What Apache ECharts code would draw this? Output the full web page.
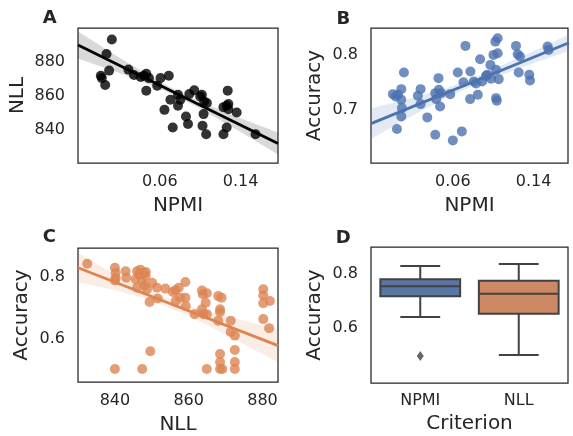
<!DOCTYPE html>
<html><head><meta charset="utf-8">
<script src="https://cdn.jsdelivr.net/npm/echarts@6/dist/echarts.min.js"></script>
<style>html,body{margin:0;padding:0;background:#fff}#c{width:573px;height:436px}</style>
</head><body><div id="c"></div>
<script>
// ---- Panel A: NPMI vs NLL ----
const npmiA = [0.0125, 0.0072, 0.0098, 0.0016, 0.0026, 0.0059, 0.0289, 0.0344, 0.0410, 0.0443,
  0.0466, 0.0492, 0.0466, 0.0574, 0.0607, 0.0689, 0.0646, 0.0705, 0.0780, 0.0780,
  0.0803, 0.0728, 0.0859, 0.0879, 0.0892, 0.0941, 0.1000, 0.1016, 0.1039, 0.1066,
  0.1033, 0.1023, 0.1059, 0.1230, 0.1262, 0.1272, 0.1262, 0.1279, 0.1230, 0.1279,
  0.1361, 0.1548];
const nllA = [893.2, 884.7, 874.9, 871.9, 870.5, 866.4, 875.5, 872.3, 871.1, 871.9,
  873.1, 870.5, 863.1, 866.0, 870.5, 871.9, 851.8, 857.7, 854.2, 860.7,
  857.7, 841.4, 847.9, 843.5, 861.1, 863.3, 859.7, 860.7, 856.7, 855.8,
  849.3, 842.4, 837.4, 837.4, 841.4, 863.1, 854.2, 855.2, 853.4, 852.2,
  850.2, 837.4];
const fitA_x = [-0.021, 0.177];
const fitA_y = [890.0, 832.0];
const bandA_x = [-0.021, 0.02, 0.06, 0.08, 0.10, 0.14, 0.177];
const bandA_lo = [882.0, 873.5, 864.3, 858.6, 852.6, 838.8, 825.5];
const bandA_hi = [898.0, 882.5, 868.3, 862.2, 856.6, 846.8, 838.5];

// ---- Panel B: NPMI vs Accuracy ----
const npmiB = [0.0007, 0.0034, 0.0057, 0.0090, 0.0090, 0.0096, 0.0090, 0.0047, 0.0116, 0.0254,
  0.0281, 0.0281, 0.0347, 0.0426, 0.0426, 0.0435, 0.0458, 0.0462, 0.0474, 0.0484,
  0.0574, 0.0600, 0.0649, 0.0689, 0.0705, 0.0725, 0.0771, 0.0774, 0.0807, 0.0847,
  0.0870, 0.0890, 0.0929, 0.0972, 0.0979, 0.1002, 0.1021, 0.1044, 0.1044, 0.1028,
  0.1028, 0.1035, 0.1054, 0.1225, 0.1242, 0.1265, 0.1252, 0.1357, 0.1364, 0.1538,
  0.1548, 0.0942, 0.0830];
const accB = [0.7285, 0.7242, 0.7273, 0.7376, 0.7182, 0.7030, 0.6879, 0.6648, 0.7679, 0.7255,
  0.7376, 0.7103, 0.6861, 0.6545, 0.7303, 0.7194, 0.7576, 0.7364, 0.7061, 0.7303,
  0.7285, 0.6442, 0.7679, 0.6606, 0.7503, 0.8164, 0.7194, 0.7697, 0.7515, 0.7273,
  0.7921, 0.7515, 0.7618, 0.7818, 0.7564, 0.8000, 0.8242, 0.8303, 0.8030, 0.7727,
  0.7212, 0.7164, 0.7558, 0.8164, 0.8012, 0.7970, 0.7679, 0.7636, 0.7533, 0.8152,
  0.8091, 0.7640, 0.7480];
const fitB_x = [-0.021, 0.175];
const fitB_y = [0.6747, 0.8222];
const bandB_x = [-0.021, 0.02, 0.06, 0.08, 0.10, 0.14, 0.175];
const bandB_lo = [0.6467, 0.6896, 0.7277, 0.7438, 0.7578, 0.7849, 0.8072];
const bandB_hi = [0.7027, 0.7216, 0.7437, 0.7578, 0.7738, 0.8069, 0.8372];

// ---- Panel C: NLL vs Accuracy ----
const nllC = [832.5, 840.0, 840.2, 840.0, 840.2, 842.9, 843.1, 846.0, 846.5, 845.6,
  846.0, 846.9, 847.8, 848.3, 848.4, 847.4, 848.0, 848.7, 850.1, 849.4,
  851.4, 851.6, 853.7, 855.7, 856.4, 857.3, 857.7, 859.1, 859.1, 859.2,
  856.5, 861.6, 863.6, 863.8, 864.9, 864.6, 863.6, 864.0, 864.9, 868.0,
  868.9, 868.5, 868.5, 868.0, 871.4, 871.4, 872.5, 872.5, 872.5, 872.5,
  868.5, 868.5, 868.5, 869.1, 864.9, 849.6, 847.4, 840.0, 880.2, 880.2,
  880.2, 882.0, 880.2, 881.8];
const accC = [0.842, 0.829, 0.813, 0.788, 0.797, 0.818, 0.797, 0.818, 0.807, 0.792,
  0.765, 0.823, 0.813, 0.802, 0.815, 0.786, 0.772, 0.760, 0.781, 0.719,
  0.765, 0.730, 0.762, 0.751, 0.757, 0.765, 0.733, 0.783, 0.733, 0.706,
  0.722, 0.680, 0.756, 0.744, 0.747, 0.717, 0.696, 0.680, 0.680, 0.738,
  0.733, 0.696, 0.687, 0.659, 0.659, 0.623, 0.611, 0.565, 0.526, 0.504,
  0.552, 0.526, 0.504, 0.504, 0.504, 0.561, 0.504, 0.504, 0.760, 0.740,
  0.715, 0.722, 0.664, 0.635];
const fitC_x = [830.0, 884.2];
const fitC_y = [0.8292, 0.5787];
const bandC_x = [830.0, 840.0, 850.0, 860.0, 870.0, 884.2];
const bandC_lo = [0.7822, 0.7579, 0.7227, 0.6745, 0.6143, 0.5257];
const bandC_hi = [0.8762, 0.8079, 0.7507, 0.7065, 0.6743, 0.6317];

// ---- Panel D: box plot by criterion ----
const boxCategories = ['NPMI', 'NLL'];
// [lower whisker, Q1, median, Q3, upper whisker]
const boxStats = [[0.641, 0.717, 0.754, 0.779, 0.828], [0.502, 0.653, 0.726, 0.774, 0.835]];
const boxOutliers = [[0, 0.499]];

// ---- tick labels ----
const ticksAx = ['0.06', '0.14'];
const ticksAy = ['840', '860', '880'];
const ticksBx = ['0.06', '0.14'];
const ticksBy = ['0.7', '0.8'];
const ticksCx = ['840', '860', '880'];
const ticksCy = ['0.6', '0.8'];
const ticksDy = ['0.6', '0.8'];

const TXT = '#262626';
const FONT = 'DejaVu Sans';
const blue = '#4c72b0', orange = '#dd8452';
const boxFill = ['#5975a4', '#cc8963'];
const boxLine = '#424242';

function fmt(ticks) {
  return function (v) {
    for (const t of ticks) if (Math.abs(Number(t) - v) < 1e-7) return t;
    return '';
  };
}
function valAxis(idx, min, max, step, ticks, name, isX, gap) {
  return {
    type: 'value', gridIndex: idx, min: min, max: max, interval: step,
    name: name, nameLocation: 'middle', nameGap: gap,
    nameTextStyle: { fontSize: 20, color: TXT, fontFamily: FONT },
    axisLine: { show: false }, axisTick: { show: false }, splitLine: { show: false },
    axisLabel: { formatter: fmt(ticks), fontSize: 16, color: TXT, fontFamily: FONT, margin: isX ? 11 : 13 }
  };
}
function pairs(xs, ys) { return xs.map((x, i) => [x, ys[i]]); }
function scatter(idx, xs, ys, color) {
  return { type: 'scatter', xAxisIndex: idx, yAxisIndex: idx, data: pairs(xs, ys), symbolSize: 10,
    itemStyle: { color: color, opacity: 0.8 }, z: 1, silent: true };
}
function fitLine(idx, xs, ys, color) {
  return { type: 'line', xAxisIndex: idx, yAxisIndex: idx, data: pairs(xs, ys), symbol: 'none',
    lineStyle: { color: color, width: 2.8 }, z: 3, clip: true, silent: true };
}
function band(idx, xs, lo, hi, color) {
  return { type: 'custom', xAxisIndex: idx, yAxisIndex: idx, clip: true, z: 2, silent: true,
    data: [[xs[0], lo[0]]],
    renderItem: function (params, api) {
      const pts = [];
      for (let i = 0; i < xs.length; i++) pts.push(api.coord([xs[i], hi[i]]));
      for (let i = xs.length - 1; i >= 0; i--) pts.push(api.coord([xs[i], lo[i]]));
      return { type: 'polygon', shape: { points: pts }, style: { fill: color, opacity: 0.15 } };
    } };
}

const gridBase = { show: true, borderColor: '#262626', borderWidth: 1.25, backgroundColor: 'transparent' };
const LETTER = 'bold 18px "DejaVu Sans"';
const option = {
  backgroundColor: '#fff',
  animation: false,
  textStyle: { fontFamily: FONT },
  grid: [
    Object.assign({ left: 78, top: 28, width: 200, height: 135 }, gridBase),
    Object.assign({ left: 371, top: 28, width: 197, height: 135 }, gridBase),
    Object.assign({ left: 78, top: 248, width: 200, height: 135 }, gridBase),
    Object.assign({ left: 371, top: 247, width: 197, height: 136 }, gridBase)
  ],
  xAxis: [
    valAxis(0, -0.021, 0.177, 0.001, ticksAx, 'NPMI', true, 33),
    valAxis(1, -0.021, 0.174, 0.001, ticksBx, 'NPMI', true, 33),
    valAxis(2, 830, 884.2, 1, ticksCx, 'NLL', true, 33),
    { type: 'category', gridIndex: 3, data: boxCategories, boundaryGap: true,
      name: 'Criterion', nameLocation: 'middle', nameGap: 31,
      nameTextStyle: { fontSize: 20, color: TXT, fontFamily: FONT },
      axisLine: { show: false }, axisTick: { show: false }, splitLine: { show: false },
      axisLabel: { fontSize: 16, color: TXT, fontFamily: FONT, margin: 10 } }
  ],
  yAxis: [
    valAxis(0, 820.5, 900, 0.5, ticksAy, 'NLL', false, 50),
    valAxis(1, 0.603, 0.849, 0.001, ticksBy, 'Accuracy', false, 46),
    valAxis(2, 0.462, 0.8925, 0.0005, ticksCy, 'Accuracy', false, 46),
    valAxis(3, 0.4, 0.897, 0.001, ticksDy, 'Accuracy', false, 46)
  ],
  graphic: [
    { type: 'text', style: { text: 'A', x: 49.8, y: 18.3, font: LETTER, fill: TXT, align: 'center', verticalAlign: 'middle' } },
    { type: 'text', style: { text: 'B', x: 343.3, y: 19.1, font: LETTER, fill: TXT, align: 'center', verticalAlign: 'middle' } },
    { type: 'text', style: { text: 'C', x: 49.3, y: 237.3, font: LETTER, fill: TXT, align: 'center', verticalAlign: 'middle' } },
    { type: 'text', style: { text: 'D', x: 343.3, y: 238.5, font: LETTER, fill: TXT, align: 'center', verticalAlign: 'middle' } }
  ],
  series: [
    scatter(0, npmiA, nllA, '#000000'),
    band(0, bandA_x, bandA_lo, bandA_hi, '#000000'),
    fitLine(0, fitA_x, fitA_y, '#000000'),
    scatter(1, npmiB, accB, blue),
    band(1, bandB_x, bandB_lo, bandB_hi, blue),
    fitLine(1, fitB_x, fitB_y, blue),
    scatter(2, nllC, accC, orange),
    band(2, bandC_x, bandC_lo, bandC_hi, orange),
    fitLine(2, fitC_x, fitC_y, orange),
    { type: 'custom', xAxisIndex: 3, yAxisIndex: 3, silent: true, z: 2,
      data: boxStats.map((s, i) => [i].concat(s)),
      renderItem: function (params, api) {
        const i = api.value(0);
        const bw = api.size([1, 0])[0] * 0.81;
        const x = api.coord([i, api.value(3)])[0];
        const y = k => api.coord([i, api.value(k)])[1];
        const yMin = y(1), yQ1 = y(2), yMed = y(3), yQ3 = y(4), yMax = y(5);
        const st = { stroke: boxLine, lineWidth: 2 };
        return { type: 'group', children: [
          { type: 'line', shape: { x1: x, y1: yQ1, x2: x, y2: yMin }, style: st },
          { type: 'line', shape: { x1: x, y1: yQ3, x2: x, y2: yMax }, style: st },
          { type: 'line', shape: { x1: x - bw / 4, y1: yMin, x2: x + bw / 4, y2: yMin }, style: st },
          { type: 'line', shape: { x1: x - bw / 4, y1: yMax, x2: x + bw / 4, y2: yMax }, style: st },
          { type: 'rect', shape: { x: x - bw / 2, y: yQ3, width: bw, height: yQ1 - yQ3 },
            style: { fill: boxFill[i], stroke: boxLine, lineWidth: 2 } },
          { type: 'line', shape: { x1: x - bw / 2, y1: yMed, x2: x + bw / 2, y2: yMed }, style: st }
        ] };
      } },
    { type: 'scatter', xAxisIndex: 3, yAxisIndex: 3, data: boxOutliers, symbol: 'diamond',
      symbolSize: [7, 10], itemStyle: { color: boxLine }, z: 3, silent: true }
  ]
};
const chart = echarts.init(document.getElementById('c'), null, { renderer: 'canvas' });
chart.setOption(option);
</script></body></html>
